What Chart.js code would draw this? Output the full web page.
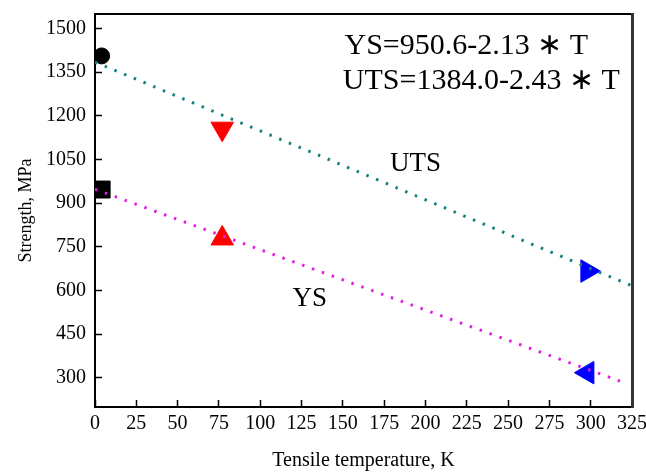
<!DOCTYPE html>
<html>
<head>
<meta charset="utf-8">
<script src="https://cdn.jsdelivr.net/npm/chart.js@4/dist/chart.umd.min.js"></script>
<style>
  html, body { margin: 0; padding: 0; background: #fff; }
  #wrap { width: 646px; height: 473px; position: relative; }
</style>
</head>
<body>
<div id="wrap"><canvas id="chart"></canvas></div>
<script>
// --- data ---
const xTicks = [0, 25, 50, 75, 100, 125, 150, 175, 200, 225, 250, 275, 300, 325];
const yTicks = [300, 450, 600, 750, 900, 1050, 1200, 1350, 1500];

// fitted lines (end points)
const utsFit = [{ x: 0, y: 1385 }, { x: 325, y: 616 }];
const ysFit  = [{ x: 0, y: 948 },  { x: 321, y: 282 }];

// measured points: temperature (K), strength (MPa)
const uts4K   = [{ x: 4,   y: 1406 }];
const ys4K    = [{ x: 4,   y: 947 }];
const uts77K  = [{ x: 77,  y: 1156 }];
const ys77K   = [{ x: 77,  y: 779 }];
const uts298K = [{ x: 298, y: 667 }];
const ys298K  = [{ x: 298, y: 318 }];

// text labels placed in data coordinates
const notes = [
  { text: 'YS=950.6-2.13 \u2217 T',   x: 151, y: 1441, size: 30, align: 'left' },
  { text: 'UTS=1384.0-2.43 \u2217 T', x: 150, y: 1318, size: 30, align: 'left' },
  { text: 'UTS', x: 194, y: 1035, size: 27, align: 'center' },
  { text: 'YS',  x: 130, y: 572,  size: 27, align: 'center' }
];

const SERIF = "'Liberation Serif', 'Times New Roman', serif";

const notesPlugin = {
  id: 'notes',
  afterDatasetsDraw(chart) {
    const { ctx, scales: { x, y } } = chart;
    ctx.save();
    ctx.fillStyle = '#000';
    ctx.textBaseline = 'middle';
    notes.forEach(n => {
      ctx.font = `${n.size}px ${SERIF}`;
      ctx.textAlign = n.align;
      ctx.fillText(n.text, x.getPixelForValue(n.x), y.getPixelForValue(n.y));
    });
    ctx.restore();
  }
};

function fitLine(data, color) {
  return {
    data, showLine: true, borderColor: color, borderWidth: 3,
    borderDash: [2.5, 8], borderCapStyle: 'butt',
    pointRadius: 0, fill: false
  };
}
function marker(data, color, style, radius, rotation) {
  return {
    data, showLine: false, pointStyle: style, pointRadius: radius,
    pointRotation: rotation || 0, pointBackgroundColor: color,
    pointBorderColor: color, pointBorderWidth: 1, order: 1
  };
}

// kill the label overhang padding so the plot box lands where we want
function noPad(s) { s.paddingLeft = s.paddingRight = s.paddingTop = s.paddingBottom = 0; }

new Chart(document.getElementById('chart').getContext('2d'), {
  type: 'scatter',
  data: {
    datasets: [
      fitLine(utsFit, '#14807f'),
      fitLine(ysFit, '#e21ee2'),
      marker(uts4K, '#000000', 'circle', 8),
      marker(ys4K, '#000000', 'rect', 12),
      marker(uts77K, '#ff0000', 'triangle', 13, 180),
      marker(ys77K, '#ff0000', 'triangle', 13, 0),
      marker(uts298K, '#0000ff', 'triangle', 13, 90),
      marker(ys298K, '#0000ff', 'triangle', 13, 270)
    ]
  },
  options: {
    responsive: true,
    maintainAspectRatio: false,
    animation: false,
    layout: { padding: { top: 11, right: 14, left: 0, bottom: 0 } },
    plugins: { legend: { display: false }, tooltip: { enabled: false } },
    scales: {
      x: {
        type: 'linear', position: 'bottom', min: 0, max: 325,
        afterBuildTicks: s => { s.ticks = xTicks.map(v => ({ value: v })); },
        afterFit: s => { s.height = 66; noPad(s); },
        grid: { drawOnChartArea: false, drawTicks: true, tickLength: -7, tickColor: '#000', tickWidth: 1.5 },
        border: { color: '#000', width: 2 },
        ticks: { color: '#000', padding: 12, font: { family: SERIF, size: 20 }, callback: v => String(v) },
        title: { display: true, text: 'Tensile temperature, K', color: '#000',
                 padding: { top: 0, bottom: 0 }, font: { family: SERIF, size: 20 } }
      },
      y: {
        type: 'linear', position: 'left', min: 200, max: 1550,
        afterBuildTicks: s => { s.ticks = yTicks.map(v => ({ value: v })); },
        afterFit: s => { s.width = 95; noPad(s); },
        grid: { drawOnChartArea: false, drawTicks: true, tickLength: -7, tickColor: '#000', tickWidth: 1.5 },
        border: { color: '#000', width: 2 },
        ticks: { color: '#000', padding: 16, font: { family: SERIF, size: 20 }, callback: v => String(v) },
        title: { display: true, text: 'Strength, MPa', color: '#000',
                 padding: { top: 15, bottom: 0 }, font: { family: SERIF, size: 18 } }
      },
      xTop: {
        type: 'linear', position: 'top', min: 0, max: 325,
        afterFit: s => { s.height = 0; noPad(s); },
        grid: { drawOnChartArea: false, drawTicks: false },
        border: { color: '#000', width: 2 },
        ticks: { display: false }
      },
      yRight: {
        type: 'linear', position: 'right', min: 200, max: 1550,
        afterFit: s => { s.width = 0; noPad(s); },
        grid: { drawOnChartArea: false, drawTicks: false },
        border: { color: '#333', width: 3 },
        ticks: { display: false }
      }
    }
  },
  plugins: [notesPlugin]
});
</script>
</body>
</html>
